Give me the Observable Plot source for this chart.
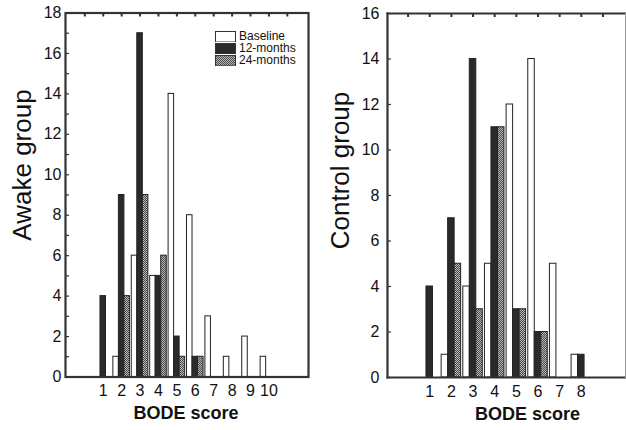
<!DOCTYPE html>
<html>
<head>
<meta charset="utf-8">
<script src="https://cdn.jsdelivr.net/npm/d3@7"></script>
<script src="https://cdn.jsdelivr.net/npm/@observablehq/plot@0.6"></script>
<style>
  body { margin: 0; background: #fff; }
  #wrap { position: relative; width: 626px; height: 430px; overflow: hidden; font-family: "Liberation Sans", Arial, sans-serif; color: #111; }
  #wrap > .panel { position: absolute; top: 0; }
  #legend { position: absolute; left: 215px; top: 30px; font-size: 12px; }
  #legend .row { display: flex; align-items: center; height: 12px; }
  #legend .row span { line-height: 12px; display: block; }
  #legend svg { margin-right: 3px; display: block; }
</style>
</head>
<body>
<svg width="0" height="0" style="position:absolute">
  <defs>
    <pattern id="dots" width="2" height="2" patternUnits="userSpaceOnUse">
      <rect width="2" height="2" fill="#b8b8b8"></rect>
      <rect width="1" height="1" fill="#4a4a4a"></rect>
      <rect x="1" y="1" width="1" height="1" fill="#4a4a4a"></rect>
    </pattern>
  </defs>
</svg>
<div id="wrap">
  <div class="panel" id="left" style="left:0px"></div>
  <div class="panel" id="right" style="left:313px"></div>
  <div id="legend"></div>
</div>
<script>
// ---- Data ----
const seriesNames = ["Baseline", "12-months", "24-months"];

const awakeScores   = [1, 2, 3, 4, 5, 6, 7, 8, 9, 10];
const awakeBaseline = [0, 1, 6, 5, 14, 8, 3, 1, 2, 1];
const awake12       = [4, 9, 17, 5, 2, 1, 0, 0, 0, 0];
const awake24       = [0, 4, 9, 6, 1, 1, 0, 0, 0, 0];

const controlScores   = [1, 2, 3, 4, 5, 6, 7, 8];
const controlBaseline = [0, 1, 4, 5, 12, 14, 5, 1];
const control12       = [4, 7, 14, 11, 3, 2, 0, 1];
const control24       = [0, 5, 3, 11, 3, 2, 0, 0];

const awakeYTicks = [0, 2, 4, 6, 8, 10, 12, 14, 16, 18];
const controlYTicks = [0, 2, 4, 6, 8, 10, 12, 14, 16];

// ---- Styles ----
const fills = {"Baseline": "white", "12-months": "#2a2a2a", "24-months": "url(#dots)"};
const offsets = {"Baseline": -0.3, "12-months": 0, "24-months": 0.3};
const halfW = 0.15;
const frameColor = "#333";
const font = "Liberation Sans, Arial, sans-serif";

function rows(scores, series) {
  const out = [];
  series.forEach((vals, i) => {
    const name = seriesNames[i];
    scores.forEach((s, j) => { if (vals[j] > 0) out.push({score: s, series: name, value: vals[j]}); });
  });
  return out;
}

function barMarks(data) {
  return seriesNames.map(name => Plot.rect(data.filter(d => d.series === name), {
    x1: d => d.score + offsets[name] - halfW,
    x2: d => d.score + offsets[name] + halfW,
    y1: 0,
    y2: "value",
    fill: fills[name],
    stroke: "#222",
    strokeWidth: 1
  }));
}

// ---- Left panel (Awake group) ----
{
  const W = 316, H = 430, mL = 65, mR = 8, mT = 12.5, mB = 53.5;
  const pw = W - mL - mR, ph = H - mT - mB;
  const data = rows(awakeScores, [awakeBaseline, awake12, awake24]);
  const chart = Plot.plot({
    width: W, height: H, marginLeft: mL, marginRight: mR, marginTop: mT, marginBottom: mB,
    x: {domain: [-1.05, 12.15], axis: null},
    y: {domain: [0, 18], axis: null},
    style: {fontFamily: font, color: "#111", background: "transparent", overflow: "visible"},
    marks: [
      ...barMarks(data),
      Plot.ruleX(d3.range(0, 12), {x: d => d, insetBottom: ph - 4, stroke: frameColor, strokeWidth: 2}),
      Plot.ruleY(d3.range(0, 19), {y: d => d, insetRight: pw - 4, stroke: frameColor, strokeWidth: 1.2}),
      Plot.frame({stroke: frameColor, strokeWidth: 2.2}),
      Plot.axisY({ticks: awakeYTicks, tickSize: 0, tickPadding: 4, fontSize: 16, label: null}),
      Plot.axisX({anchor: "bottom", ticks: awakeScores, tickSize: 0, tickPadding: 8, fontSize: 16, label: null}),
      Plot.text(["BODE score"], {text: d => d, frameAnchor: "bottom", dx: -1, dy: 42, fontWeight: "bold", fontSize: 18}),
      Plot.text(["Awake group"], {text: d => d, frameAnchor: "left", textAnchor: "middle", rotate: -90, dx: -43, dy: -30, fontSize: 26})
    ]
  });
  document.getElementById("left").appendChild(chart);
}

// ---- Right panel (Control group) ----
{
  const W = 313, H = 430, mL = 74, mR = 1, mT = 13, mB = 53;
  const pw = W - mL - mR, ph = H - mT - mB;
  const data = rows(controlScores, [controlBaseline, control12, control24]);
  const chart = Plot.plot({
    width: W, height: H, marginLeft: mL, marginRight: mR, marginTop: mT, marginBottom: mB,
    x: {domain: [-0.95, 10.04], axis: null},
    y: {domain: [0, 16], axis: null},
    style: {fontFamily: font, color: "#111", background: "transparent", overflow: "visible"},
    marks: [
      ...barMarks(data),
      Plot.ruleX(d3.range(0, 10), {x: d => d, insetBottom: ph - 4, stroke: frameColor, strokeWidth: 2}),
      Plot.ruleY(controlYTicks, {y: d => d, insetRight: pw - 4, stroke: frameColor, strokeWidth: 1.2}),
      Plot.frame({anchor: "left", stroke: frameColor, strokeWidth: 2.2}),
      Plot.frame({anchor: "top", stroke: frameColor, strokeWidth: 2.2}),
      Plot.frame({anchor: "bottom", stroke: frameColor, strokeWidth: 2.2}),
      Plot.frame({anchor: "right", stroke: "#999", strokeWidth: 1}),
      Plot.axisY({ticks: controlYTicks, tickSize: 0, tickPadding: 8, fontSize: 16, label: null}),
      Plot.axisX({anchor: "bottom", ticks: controlScores, tickSize: 0, tickPadding: 8, fontSize: 16, label: null}),
      Plot.text(["BODE score"], {text: d => d, frameAnchor: "bottom", dx: 21, dy: 42, fontWeight: "bold", fontSize: 18}),
      Plot.text(["Control group"], {text: d => d, frameAnchor: "left", textAnchor: "middle", rotate: -90, dx: -47, dy: -25, fontSize: 26})
    ]
  });
  document.getElementById("right").appendChild(chart);
}

// ---- Legend ----
{
  const legend = d3.select("#legend");
  seriesNames.forEach(name => {
    const row = legend.append("div").attr("class", "row");
    const sw = row.append("svg").attr("width", 21).attr("height", 11);
    sw.append("rect").attr("x", 0.5).attr("y", 0.5).attr("width", 20).attr("height", 10.5)
      .attr("fill", fills[name]).attr("stroke", "#333").attr("stroke-width", 1);
    row.append("span").text(name);
  });
}
</script>
</body>
</html>
